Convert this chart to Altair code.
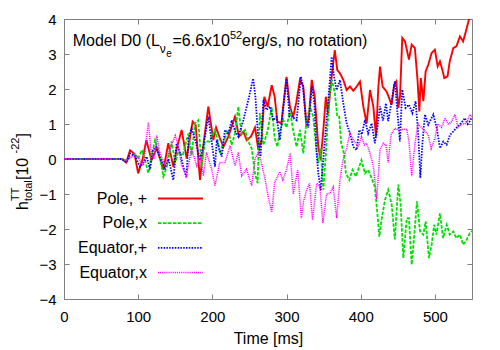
import altair as alt
import pandas as pd

series_names = ["Pole, +", "Pole,x", "Equator,+", "Equator,x"]
series_colors = ["#ff0000", "#00e000", "#0000ff", "#ff00ff"]
series_dash = [[1, 0], [3.5, 1.5], [1.5, 1.3], [1, 0.9]]

x_ticks = [0, 100, 200, 300, 400, 500]
y_ticks = [-4, -3, -2, -1, 0, 1, 2, 3, 4]

pole_plus = [(0, 0), (78, 0), (84, -0.1), (89, 0.25), (95, 0.15), (100, -0.41), (106, 0.0), (111, 0.54),
             (118, -0.03), (125, 0.31), (134, -0.31), (140.6, 0.45), (147.4, -0.22), (152, 0.3), (158.6, 0.83),
             (165.3, 0.02), (173.4, 1.07), (177.5, 0.97), (183.3, -0.6), (188.7, 0.54), (194.6, 1.5),
             (201.3, 0.54), (205, 0.9), (210, 0.6), (215, 0.35), (221.5, 0.64), (230.5, 1.21), (236, 0.64),
             (241.8, 0.78), (246.2, 0.54), (252, 0.64), (257.5, 0.9), (262, 0.26), (266.4, 0.54), (270, 1.78),
             (274.5, 1.49), (280, 2.11), (284, 1.78), (287.6, 1.07), (293, 1.02), (300, 2.35), (304.6, 1.49),
             (309, 1.21), (313, 1.6), (318, 2.26), (322.6, 2.07), (327, 0.92), (330, 1.2), (334, 2.26),
             (338, 1.78), (342.8, 0.35), (346, -0.03), (349.6, 0.83), (353, 1.78), (356, 1.3), (360.8, 2.35),
             (365, 3.11), (368.4, 2.54), (372, 2.45), (376.5, 2.26), (381, 1.97), (385.5, 2.07), (390, 1.95),
             (394.5, 2.07), (399, 2.21), (403.5, 1.5), (408, 1.02), (412.5, 1.97), (417, 1.5), (420.6, 0.64),
             (423.8, 2.07), (426, 2.64), (429.5, 2.07), (435, 1.92), (441.7, 1.55), (445, 2.12), (448, 2.22),
             (450.7, 1.46), (453, 1.8), (456, 3.46), (459.7, 3.36), (465, 2.84), (468.7, 3.27), (473, 3.17),
             (476.7, 2.22), (479, 1.36), (481, 2.31), (484.4, 1.65), (487.5, 2.5), (491, 2.69), (495.6, 3.03),
             (500, 3.12), (503.7, 2.65), (506.8, 2.79), (510, 2.55), (512.7, 2.31), (517, 2.36), (520, 2.79),
             (524.8, 3.17), (529, 3.22), (533.7, 3.5), (538, 3.36), (541.8, 3.65), (545.8, 3.98), (550, 4.1)]

pole_cross = [(0, 0), (78, 0), (84, -0.05), (89, 0.07), (95, 0.15), (100, 0.0), (105, 0.26), (109, 0.0),
              (113.7, -0.41), (118, 0.1), (122.7, 0.54), (128, 0.2), (134, -0.5), (139, -0.2), (145, 0.5),
              (150, -0.1), (154, 0.2), (160, 0.1), (167.6, 0.73), (172, 0.1), (176.6, 1.02), (181, 1.11),
              (185.5, -0.22), (190, 0.5), (196, 0.5), (203.5, 0.83), (207, 0.54), (210.3, 0.16), (215, 0.5),
              (221.5, 0.83), (226, 0.4), (230.5, 0.73), (235, 1.49), (239.5, 0.7), (244, 0.83), (248.5, 0.5),
              (253, 0.3), (257.5, -0.41), (261, -0.69), (264, 1.31), (268.7, 0.4), (274.5, 0.8), (280, 1.49),
              (284, 0.6), (287.6, 0.35), (291, 0.8), (295.7, 1.11), (300, 0.9), (304.6, 1.4), (309, 0.8),
              (313.6, 0.35), (318, 0.83), (322.6, 0.16), (327, 1.12), (331.6, 1.5), (336, 1.21), (339.7, 0.35),
              (342.8, -0.12), (346, 0.3), (349.6, -0.88), (353, 0.16), (357.7, 1.78), (361.2, 2.26),
              (365.2, 1.88), (368.4, 1.21), (371, 1.21), (373.7, 0.45), (377.4, 0.16), (380, -0.41),
              (384.6, -0.6), (389, -0.31), (393.6, -0.5), (398, -0.22), (401, -0.03), (405.7, -0.41),
              (410, -0.31), (414.7, -0.55), (419, -0.79), (422.4, -1.55), (425, -2.22), (428, -1.74),
              (432.7, -1.17), (437, -0.88), (441.7, -1.3), (446, -2.3), (450.7, -0.73), (453.8, -1.3),
              (457.4, -2.83), (462, -1.69), (465, -1.69), (468.7, -3.02), (473, -1.97), (475.8, -1.21),
              (480, -2.07), (484.4, -2.16), (487.5, -1.78), (492, -2.83), (495.6, -2.45), (499, -1.88),
              (502, -2.16), (506.8, -1.55), (511, -2.26), (516, -1.88), (520, -2.16), (524.8, -2.07),
              (529, -2.26), (533.7, -2.16), (538, -2.45), (542.7, -2.31), (547, -2.12), (550, -2.05)]

equator_plus = [(0, 0), (78, 0), (84, -0.1), (89, 0.16), (95, 0.1), (102.5, -0.22), (107, -0.1), (111.4, 0.07),
                (116, -0.3), (120, 0.26), (124, 0.35), (129, 0.05), (136, -0.26), (141, 0.0), (147.4, -0.6),
                (151.8, 0.45), (156, 0.2), (160.8, -0.22), (165, -0.52), (168, 0.6), (172, 0.87), (177.5, 0.5),
                (183.3, -0.03), (188, 0.4), (194.6, 1.21), (199, 0.5), (203.5, -0.22), (206, 0.54), (209, 0.3),
                (212.5, 0.07), (217, 0.83), (221.5, 0.7), (226, 1.11), (230.5, 0.8), (235, 0.64), (241.8, 1.11),
                (248.5, 1.69), (255, 2.3), (258, 1.78), (262, 0.54), (265, 0.07), (268.7, 1.69), (273, 1.4),
                (277.5, 1.5), (282, 1.11), (286.5, 1.2), (291, 0.54), (295.7, 1.49), (300, 2.3), (304, 1.21),
                (308, 1.21), (313.6, 1.11), (319.4, 2.35), (322, 2.1), (326, 1.12), (329.5, 0.9), (334, 2.07),
                (337.5, 1.6), (340.6, 0.16), (342.8, -0.41), (346, -0.88), (349.6, 0.0), (354, 1.12),
                (357.7, 2.07), (360.8, 2.92), (364, 2.35), (367.5, 1.97), (372, 2.26), (376.5, 1.59),
                (381, 1.02), (385.5, 0.73), (390, 0.35), (394.5, 0.26), (398, 0.83), (401.5, 0.7),
                (405.7, 1.12), (410, 0.73), (414.7, 1.02), (419, 0.45), (422.5, 0.9), (426, 1.5), (430, 1.1),
                (434, 1.59), (437, 1.08), (441.7, 1.65), (446, 2.22), (449.7, 1.27), (452.8, 0.5), (456, 1.98),
                (460.5, 1.46), (465, 1.55), (469.6, 1.31), (474, 1.65), (477.6, 0.69), (480.3, -0.54),
                (483, 0.41), (486.6, 1.27), (491, 0.98), (497.9, 1.27), (502.4, 0.89), (506.8, 0.31),
                (511.3, 0.5), (515.8, 0.41), (520.3, 0.69), (524.8, 0.79), (529, 0.89), (533.7, 0.98),
                (540.5, 1.17), (544, 1.0), (547, 1.08), (550, 1.2)]

equator_cross = [(0, 0), (80, 0), (85, -0.05), (90, 0.05), (98, 0.1), (103, -0.05), (107, -0.19), (113.7, 1.05),
                 (118, 0.1), (122, 0.0), (125, 0.67), (129, 0.19), (136, -0.19), (143, 0.29), (150, 0.67),
                 (154, 0.38), (158.6, -0.19), (165, -0.48), (172, 0.29), (179, -0.19), (183, 0.1), (188, -0.48),
                 (192, 0.19), (199, -0.29), (203.5, -0.76), (210, -0.1), (217, -0.1), (224, 0.38), (230.5, -0.19),
                 (235, 0.19), (239.5, -0.48), (246, -0.29), (253, -0.76), (257.5, 0), (262, 0.19), (266, -0.1),
                 (271, -0.57), (275, -1.05), (280, -1.52), (284, -0.67), (291, -0.36), (295, -0.6), (300, -0.3),
                 (305, 0.17), (309, -1.0), (315, -0.31), (320, -1.69), (323, -1.2), (327, -0.89), (331, -0.7),
                 (335, -1.74), (340.6, -0.69), (345, -0.8), (349, -1.83), (354, -1.0), (358.6, -0.98), (363, -0.8),
                 (367.5, -1.69), (372, -0.6), (376, -0.03), (381, 0.3), (385.5, 0.74), (390, 0.54), (396.8, 0.35),
                 (401, 0.64), (405, 0.4), (408, 0.45), (412.5, 0.16), (417, -0.2), (421.5, -1.14), (426, 0.26),
                 (430.4, 0.45), (434, 0.4), (437, -0.1), (441, 0.7), (446, 0.88), (452, 0.82), (457, 0.85),
                 (462, 0.85), (465, 0.5), (468.7, -0.49), (473, 0.41), (477, 1.0), (482, 0.9), (486.6, 0.8),
                 (491, 0.69), (495, 0.3), (500, 0.6), (504, 1.0), (509, 0.9), (513.6, 1.17), (518, 1.0),
                 (522, 1.05), (527, 1.27), (531, 0.9), (536, 1.0), (540.5, 1.0), (544, 1.1), (547, 1.27),
                 (550, 1.2)]

title_parts = ["Model D0 (L", "\u03bd", "e", "=6.6x10", "52", "erg/s, no rotation)"]
ytitle_parts = ["h", "TT", "total", " [10", "-22", "]"]
x_title = "Time [ms]"

rows = []
for name, pts in zip(series_names, [pole_plus, pole_cross, equator_plus, equator_cross]):
    for t, v in pts:
        rows.append({"series": name, "t": t, "h": v})
df = pd.DataFrame(rows)

FONT = "Liberation Sans"
GREY = "#808080"
xs = alt.Scale(domain=[0, 550], nice=False, zero=False)
ys = alt.Scale(domain=[-4, 4], nice=False, zero=False)

color = alt.Color("series:N", scale=alt.Scale(domain=series_names, range=series_colors), legend=None)
dash = alt.StrokeDash("series:N", scale=alt.Scale(domain=series_names, range=series_dash), legend=None)

common_axis = dict(domain=False, grid=False, tickSize=5, offset=-5, tickColor=GREY, labelFont=FONT,
                   labelFontSize=15, labelColor="black", labelFlush=False)
ax_bottom = alt.Axis(orient="bottom", values=x_ticks, labelPadding=10, title=x_title, titleFont=FONT,
                     titleFontSize=16, titleFontWeight="normal", titleColor="black", titlePadding=6,
                     **common_axis)
ax_left = alt.Axis(orient="left", values=y_ticks, labelPadding=8, title=None, format="d", **common_axis)
ax_top = alt.Axis(orient="top", values=x_ticks, labels=False, title=None, **common_axis)
ax_right = alt.Axis(orient="right", values=y_ticks, labels=False, title=None, **common_axis)

widths = [1.9, 1.8, 1.8, 1.5]
layers = []
for i, (name, w) in enumerate(zip(series_names, widths)):
    if i == 0:
        xa, ya = ax_bottom, ax_left
    elif i == 1:
        xa, ya = ax_top, ax_right
    else:
        xa, ya = None, None
    layers.append(
        alt.Chart(df).transform_filter(alt.datum.series == name).mark_line(strokeWidth=w, clip=True).encode(
            x=alt.X("t:Q", scale=xs, axis=xa),
            y=alt.Y("h:Q", scale=ys, axis=ya),
            color=color, strokeDash=dash, order="t:Q"))

one = pd.DataFrame({"a": [0]})


def txt(s, x, y, size, angle=0, align="left", baseline="alphabetic"):
    kw = dict(align=align, baseline=baseline, font=FONT, fontSize=size, color="black")
    if angle:
        kw["angle"] = angle
    return alt.Chart(one).mark_text(**kw).encode(x=alt.value(x), y=alt.value(y), text=alt.value(s))


texts = [
    txt(title_parts[0], 8.7, 27, 16),
    txt(title_parts[1], 95.7, 34, 12),
    txt(title_parts[2], 102.3, 38, 10),
    txt(title_parts[3], 108.5, 27, 16),
    txt(title_parts[4], 166, 19.5, 11),
    txt(title_parts[5], 178, 27, 16),
    txt(ytitle_parts[0], -36.5, 191, 16, 270),
    txt(ytitle_parts[1], -45, 182, 11, 270),
    txt(ytitle_parts[2], -32.5, 182, 11, 270),
    txt(ytitle_parts[3], -36.5, 161, 16, 270),
    txt(ytitle_parts[4], -45, 134.5, 11, 270),
    txt(ytitle_parts[5], -36.5, 118.6, 16, 270),
]

# legend (labels to the left of the line samples, as in the reference)
legend_layers = []
for i, (name, col, dsh, w) in enumerate(zip(series_names, series_colors, series_dash, widths)):
    ry = 179.5 + 24.7 * i
    legend_layers.append(
        alt.Chart(one).mark_rule(color=col, strokeDash=dsh, strokeWidth=w).encode(
            x=alt.value(94), x2=alt.value(139), y=alt.value(ry)))
    legend_layers.append(txt(name, 83, ry, 16, align="right", baseline="middle"))

chart = alt.layer(*layers, *legend_layers, *texts).resolve_axis(x="independent", y="independent").properties(
    width=408, height=280,
    autosize=alt.AutoSizeParams(type="none"),
    padding={"left": 56, "top": 11, "right": 20, "bottom": 50},
).configure_view(stroke=GREY, strokeWidth=1)

chart.save("out.html", embed_options={"renderer": "svg", "actions": False})
